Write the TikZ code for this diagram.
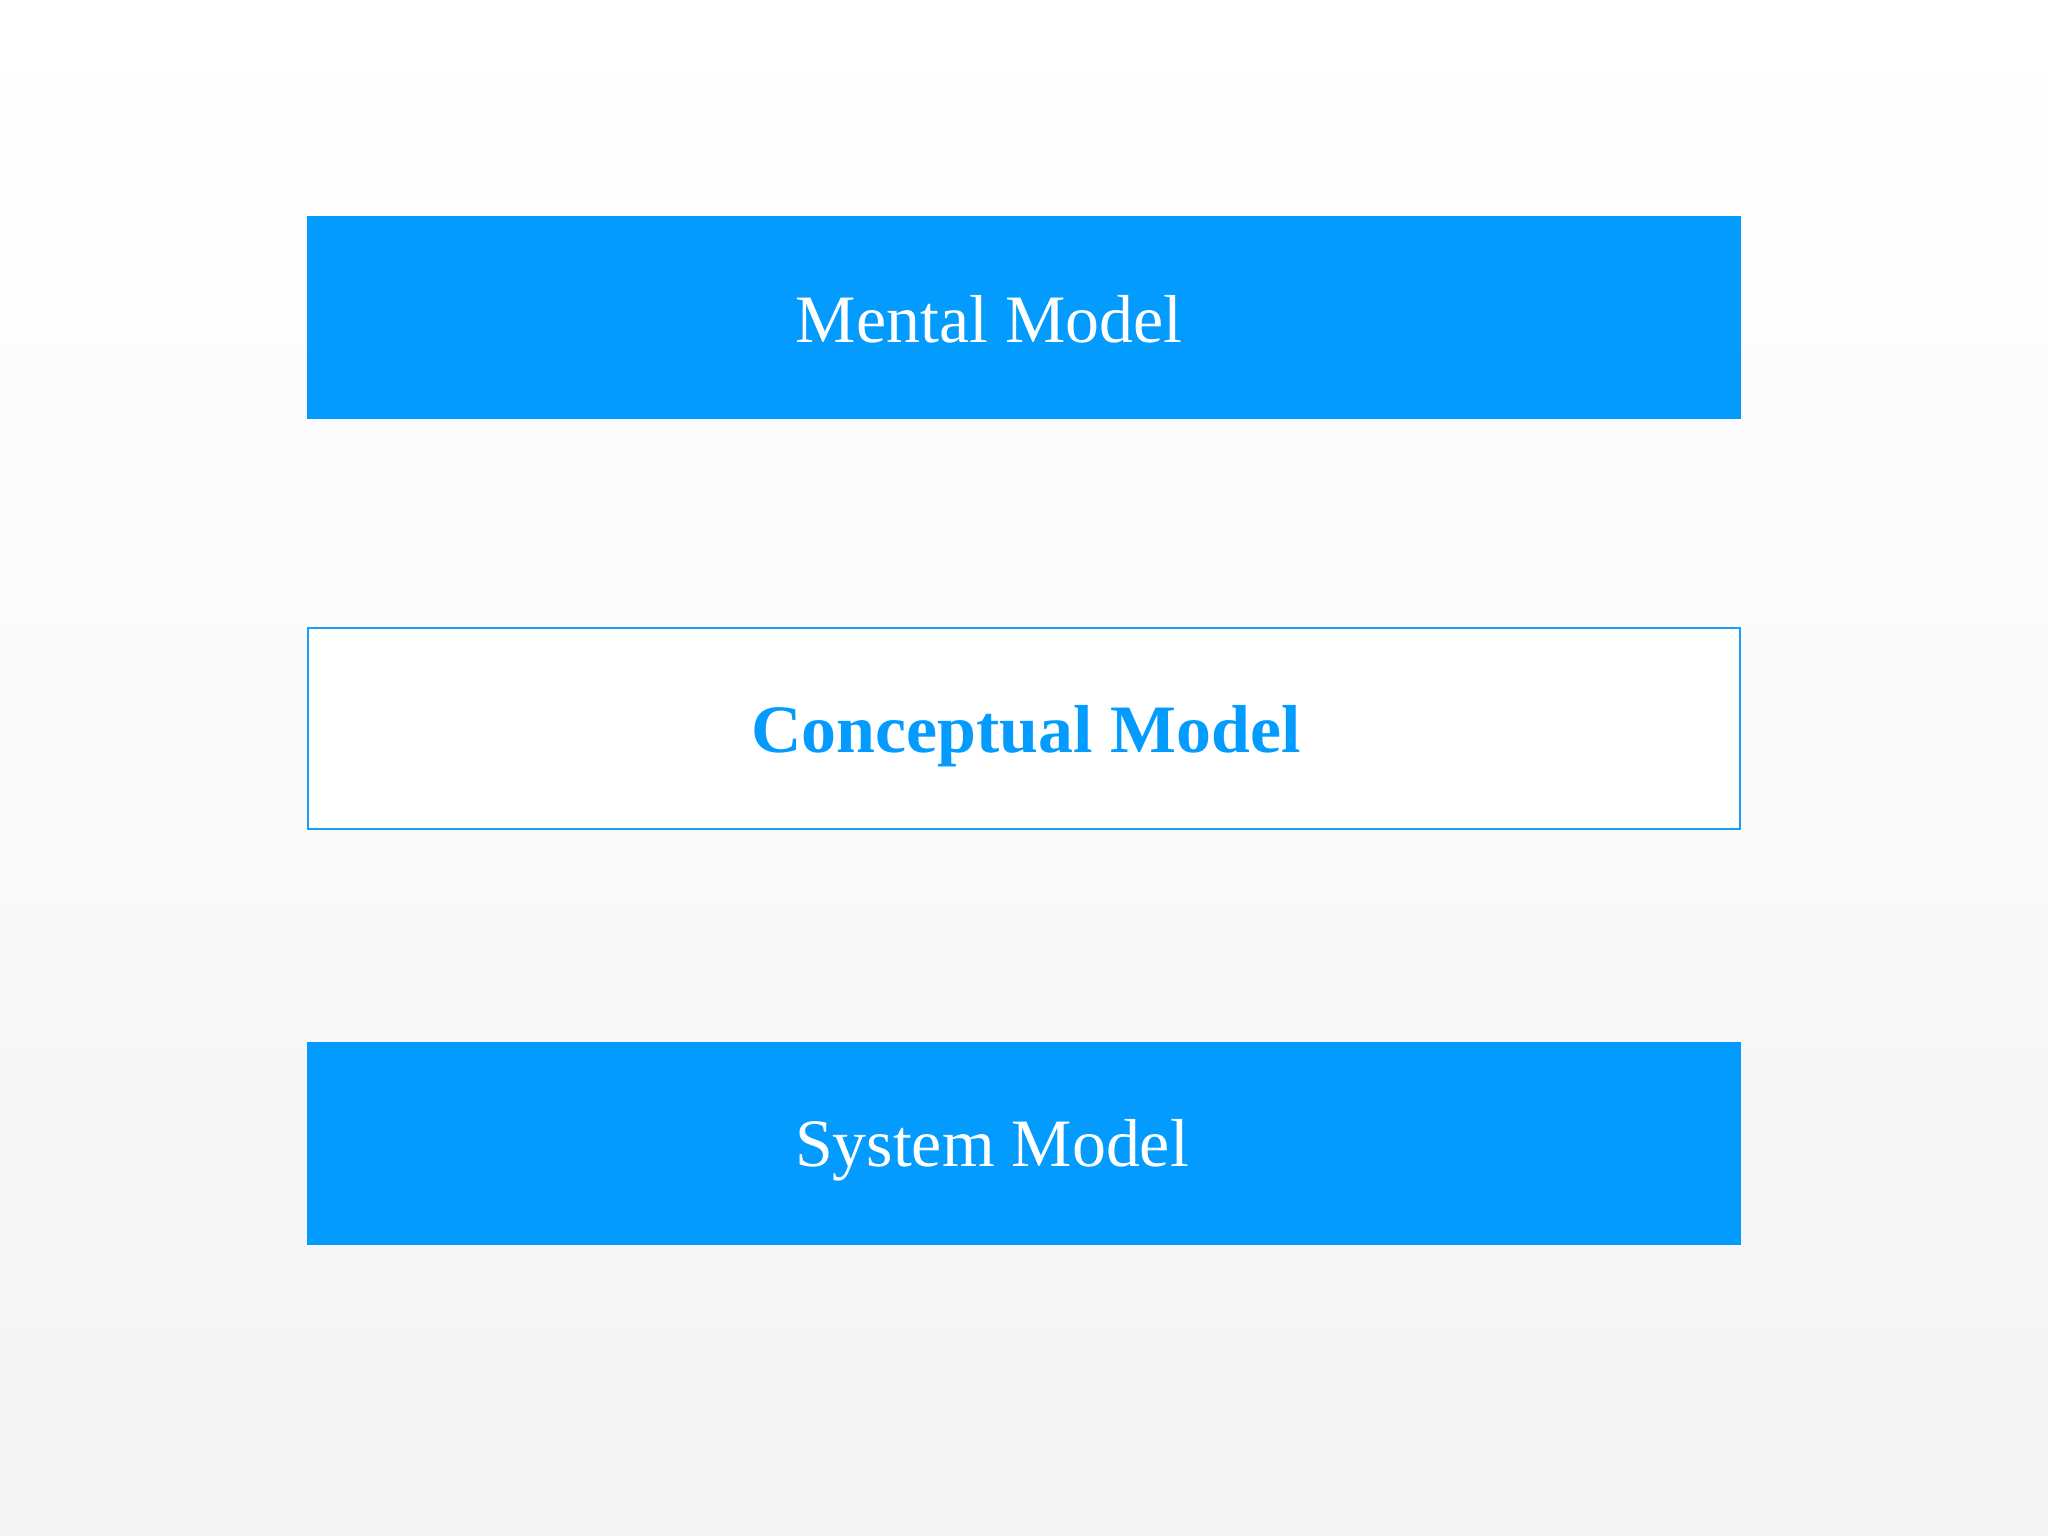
\documentclass[tikz,border=0pt]{standalone}
\usepackage{fontspec}
\setmainfont{Liberation Serif}
\usepackage{tikz}
\usetikzlibrary{positioning}
\usepackage{xcolor}
\definecolor{azzurro}{HTML}{039BFE}
\definecolor{bordo}{HTML}{17A0F4}
\definecolor{sfondo}{HTML}{F4F4F5}
\newcommand{\testo}{\fontsize{19.3}{23}\selectfont}

\begin{document}
\begin{tikzpicture}[
    pieno/.style = {fill = azzurro, draw = none, minimum width = 14.34cm, minimum height = 2.03cm, inner sep = 0pt},
    vuoto/.style = {fill = white, draw = bordo, line width = 0.6pt, minimum width = 14.32cm, minimum height = 2.01cm, inner sep = 0pt},
    etichetta/.style = {font = \testo, inner sep = 0pt, anchor = base}
]
    % Parametri
    \pgfmathsetmacro{\W}{20.48}
    \pgfmathsetmacro{\H}{15.36}
    \pgfmathsetmacro{\xc}{10.24}
    % Sfondo
    \shade[top color = white, bottom color = sfondo] (0,0) rectangle (\W,\H);
    \useasboundingbox (0,0) rectangle (\W,\H);
    % Riquadri
    \node[pieno] (mental) at (\xc,12.18) {};
    \node[vuoto] (conceptual) at (\xc,8.075) {};
    \node[pieno] (system) at (\xc,3.92) {};
    % Testi
    \node[etichetta, text = white] (mentalTxt) at ([xshift = -0.35cm, yshift = -0.245cm]mental.center) {Mental Model};
    \node[etichetta, text = azzurro, font = \testo\bfseries] (conceptualTxt) at ([xshift = 0.02cm, yshift = -0.24cm]conceptual.center) {\scalebox{1.03}[1]{Conceptual Model}};
    \node[etichetta, text = white] (systemTxt) at ([xshift = -0.32cm, yshift = -0.225cm]system.center) {System Model};
\end{tikzpicture}
\end{document}
